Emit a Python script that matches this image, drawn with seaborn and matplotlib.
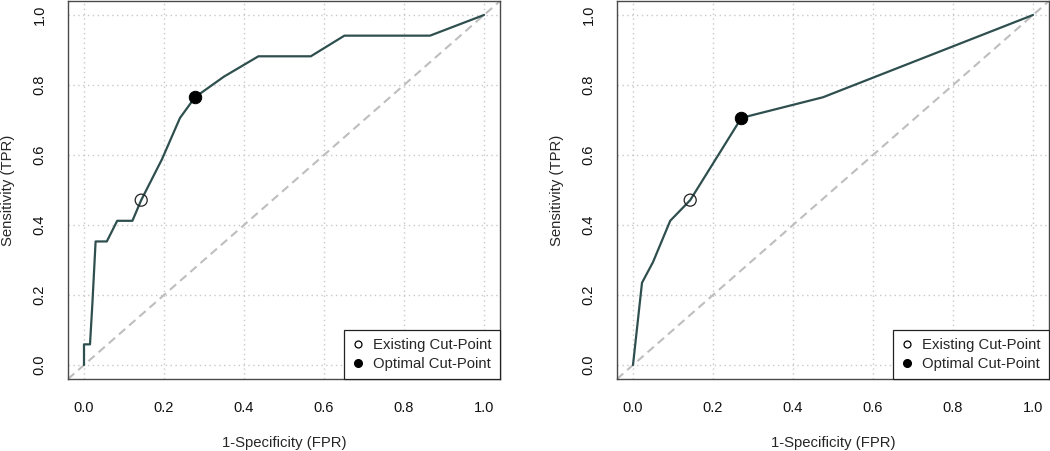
import numpy as np
import pandas as pd
import matplotlib
matplotlib.use("Agg")
import matplotlib.pyplot as plt
from matplotlib.lines import Line2D
import seaborn as sns

# ROC curve points
left_fpr = [0.0, 0.0, 0.015, 0.021, 0.029, 0.057, 0.083, 0.121, 0.143, 0.195,
            0.240, 0.2775, 0.350, 0.436, 0.567, 0.651, 0.865, 1.0]
left_tpr = [0.0, 0.059, 0.059, 0.176, 0.353, 0.353, 0.412, 0.412, 0.471, 0.588,
            0.706, 0.765, 0.824, 0.882, 0.882, 0.941, 0.941, 1.0]

right_fpr = [0.0, 0.0225, 0.050, 0.093, 0.143, 0.271, 0.475, 1.0]
right_tpr = [0.0, 0.235, 0.294, 0.412, 0.471, 0.706, 0.765, 1.0]

# cut-points: (fpr, tpr)
left_existing = (0.143, 0.471)
left_optimal = (0.2775, 0.765)
right_existing = (0.143, 0.471)
right_optimal = (0.271, 0.706)

ticks = [0.0, 0.2, 0.4, 0.6, 0.8, 1.0]
tick_labels = ["0.0", "0.2", "0.4", "0.6", "0.8", "1.0"]
legend_labels = ["Existing Cut-Point", "Optimal Cut-Point"]

sns.set_style("white")
plt.rcParams["font.family"] = ["Liberation Sans", "DejaVu Sans"]

line_color = "#2F4F4F"
W, H = 1050, 451

fig = plt.figure(figsize=(10.5, 4.51), dpi=100)


def draw_panel(ax, fpr, tpr, existing, optimal):
    ax.set_xlim(-0.04, 1.04)
    ax.set_ylim(-0.04, 1.04)

    for t in ticks:
        ax.axvline(t, color="#C8C8C8", lw=1, ls=(0, (1, 2.5)), zorder=0)
        ax.axhline(t, color="#C8C8C8", lw=1, ls=(0, (1, 2.5)), zorder=0)

    ax.plot([-0.04, 1.04], [-0.04, 1.04], color="#BEBEBE", lw=1.5,
            ls=(0, (4, 2.5)), zorder=1)

    df = pd.DataFrame({"fpr": fpr, "tpr": tpr})
    sns.lineplot(data=df, x="fpr", y="tpr", sort=False, estimator=None,
                 color=line_color, lw=1.6, ax=ax, zorder=2)

    pts = pd.DataFrame({"fpr": [existing[0]], "tpr": [existing[1]]})
    sns.scatterplot(data=pts, x="fpr", y="tpr", ax=ax, s=75,
                    facecolor="none", edgecolor="#222222", linewidth=0.9, zorder=3)
    pts = pd.DataFrame({"fpr": [optimal[0]], "tpr": [optimal[1]]})
    sns.scatterplot(data=pts, x="fpr", y="tpr", ax=ax, s=80,
                    color="black", edgecolor="black", zorder=3)

    ax.set_xticks(ticks)
    ax.set_xticklabels(tick_labels)
    ax.set_yticks(ticks)
    ax.set_yticklabels(tick_labels, rotation=90, va="center")
    ax.tick_params(direction="out", length=6.5, width=0.9, color="#444444",
                   labelsize=10.5, labelcolor="#111111", pad=9)
    for s in ax.spines.values():
        s.set_color("#4A4A4A")
        s.set_linewidth(1.0)

    ax.set_xlabel("1-Specificity (FPR)", fontsize=10.7, va="center")
    ax.xaxis.set_label_coords(0.5, (379 - 443) / 378)
    ax.set_ylabel("Sensitivity (TPR)", fontsize=10.7, va="center")
    ax.yaxis.set_label_coords((8 - 68) / 432, 0.5)

    handles = [
        Line2D([], [], ls="none", marker="o", markersize=5, markerfacecolor="white",
               markeredgecolor="black", markeredgewidth=0.9),
        Line2D([], [], ls="none", marker="o", markersize=5.5, markerfacecolor="black",
               markeredgecolor="black"),
    ]
    leg = ax.legend(handles, legend_labels, loc="lower right", borderaxespad=0,
                    fontsize=10.7, frameon=True, fancybox=False, framealpha=1,
                    handlelength=0.8, handletextpad=0.6, labelspacing=0.3,
                    borderpad=0.55)
    leg.get_frame().set_edgecolor("#222222")
    leg.get_frame().set_linewidth(0.9)


ax1 = fig.add_axes([68 / W, (H - 379) / H, 432 / W, 378 / H])
draw_panel(ax1, left_fpr, left_tpr, left_existing, left_optimal)

ax2 = fig.add_axes([617 / W, (H - 379) / H, 432 / W, 378 / H])
draw_panel(ax2, right_fpr, right_tpr, right_existing, right_optimal)

fig.savefig("out.png", dpi=100)
